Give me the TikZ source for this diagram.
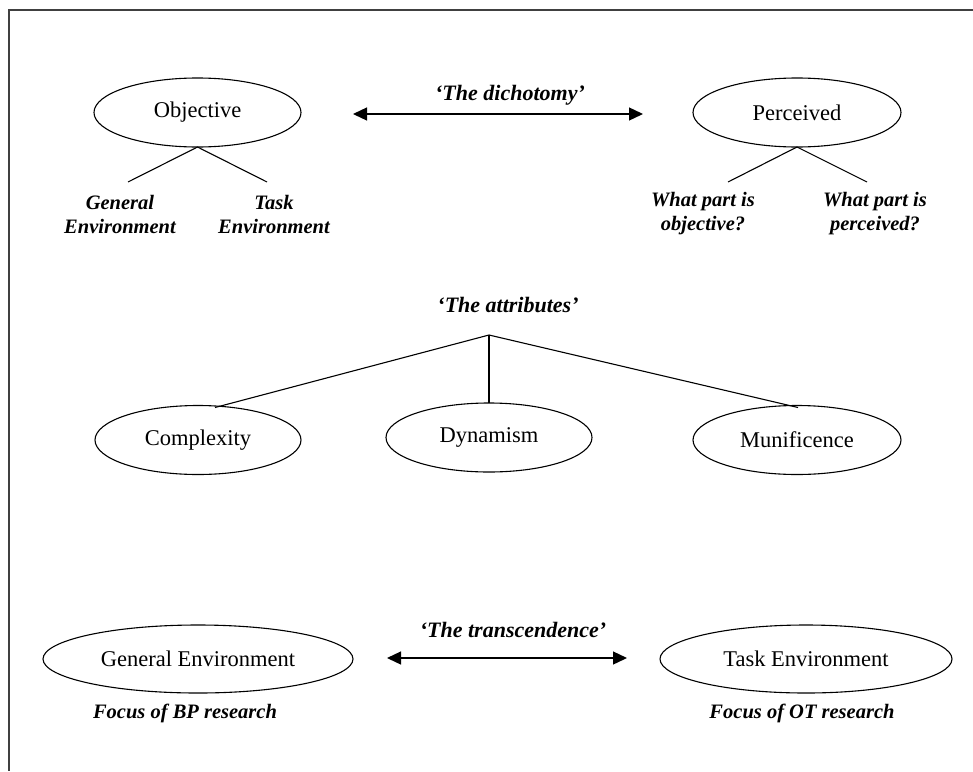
\documentclass[tikz,border=0pt]{standalone}
\usepackage{fontspec}
\setmainfont{Liberation Serif}
\usetikzlibrary{shapes.geometric,arrows.meta}
\begin{document}
\begin{tikzpicture}[x=1pt,y=-1pt,
  ell/.style={ellipse,draw,line width=1.1pt,inner sep=0pt,outer sep=0pt,font=\fontsize{22.5}{26}\selectfont},
  sublabel/.style={align=center,inner sep=0pt,font=\fontsize{20.5}{24}\selectfont\bfseries\itshape},
  headlabel/.style={inner sep=0pt,font=\fontsize{22}{26}\selectfont\bfseries\itshape},
  conn/.style={line width=1.1pt},
  dblarrow/.style={line width=1.3pt,{Triangle[length=14pt,width=13pt]}-{Triangle[length=14pt,width=13pt]}},
  framestyle/.style={line width=1.4pt,draw=black!75}]
\useasboundingbox (0,0) rectangle (973,771);
% frame
\coordinate (ftr) at (973,10);
\coordinate (ftl) at (9,10);
\coordinate (fbl) at (9,771);
\draw[framestyle] (ftr) -- (ftl) -- (fbl);

% dichotomy
\node[ell,minimum width=207pt,minimum height=69pt] (obj) at (197.5,112.5) {Objective};
\node[ell,minimum width=208pt,minimum height=69pt] (perc) at (797,112.5) {Perceived};
\node[headlabel] (dich) at (510,95) {‘The dichotomy’};
\draw[dblarrow,shorten <=52pt,shorten >=50pt] ([yshift=-1.5pt]obj.east) -- ([yshift=-1.5pt]perc.west);

\coordinate (ogl) at (128,182);
\coordinate (otl) at (267,182);
\draw[conn] (ogl) -- (obj.south) -- (otl);
\node[sublabel] (genenv) at (120,214) {General\\Environment};
\node[sublabel] (taskenv) at (274,214) {Task\\Environment};

\coordinate (pol) at (728,182);
\coordinate (ppl) at (867,182);
\draw[conn] (pol) -- (perc.south) -- (ppl);
\node[sublabel] (whatobj) at (703,214) {What part is\\objective?};
\node[sublabel] (whatperc) at (875,214) {What part is\\perceived?};

% attributes
\node[headlabel] (attr) at (508,305) {‘The attributes’};
\coordinate (apex) at (489,335);
\node[ell,minimum width=206pt,minimum height=69pt] (cplx) at (198,440) {Complexity};
\node[ell,minimum width=206pt,minimum height=69pt] (dyn) at (489,437.5) {Dynamism};
\node[ell,minimum width=208pt,minimum height=69pt] (munif) at (797,440) {Munificence};
\draw[conn] (apex) -- ([xshift=17pt,yshift=-2pt]cplx.north);
\draw[conn] (apex) -- (dyn.north);
\draw[conn] (apex) -- ([xshift=1pt,yshift=-2pt]munif.north);

% transcendence
\node[ell,minimum width=310pt,minimum height=68pt] (genell) at (198,659) {General Environment};
\node[ell,minimum width=292pt,minimum height=68pt] (taskell) at (806,659) {Task Environment};
\node[headlabel] (trans) at (513,630) {‘The transcendence’};
\draw[dblarrow,shorten <=34pt,shorten >=33pt] ([yshift=1pt]genell.east) -- ([yshift=1pt]taskell.west);
\node[sublabel] (focbp) at (185,713) {Focus of BP research};
\node[sublabel] (focot) at (802,713) {Focus of OT research};
\end{tikzpicture}
\end{document}
